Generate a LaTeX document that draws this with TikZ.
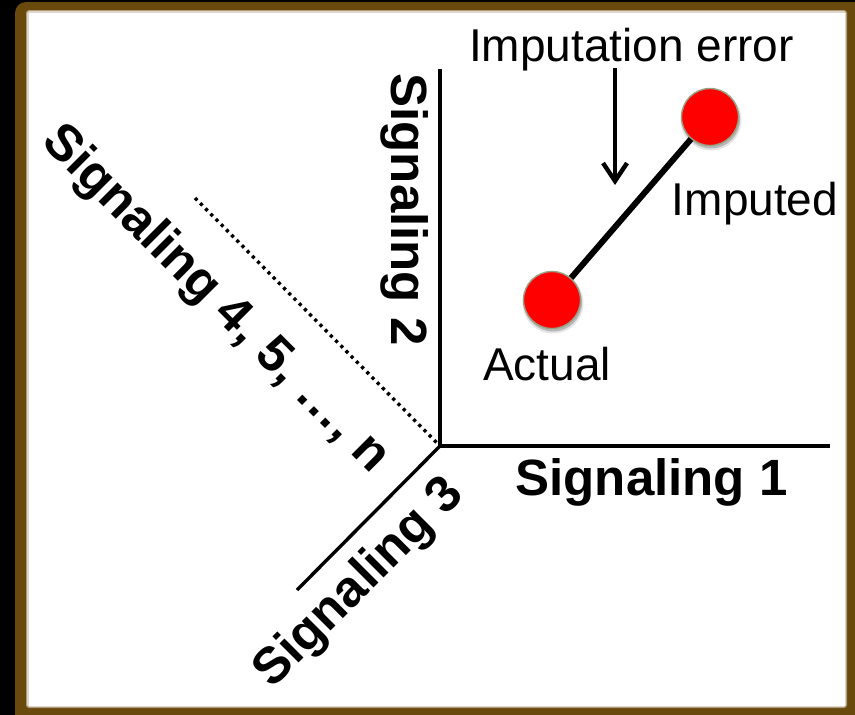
\documentclass[tikz,border=0pt]{standalone}
\usepackage{fontspec}
\setmainfont{Liberation Sans}
\usetikzlibrary{arrows.meta}

\definecolor{framebrown}{RGB}{106,73,12}
\definecolor{dotrim}{RGB}{150,160,130}

\tikzset{
  axisline/.style={line width=4pt, line cap=butt},
  diagline/.style={line width=3.4pt},
  dotline/.style={line width=3.4pt, line cap=butt, dash pattern=on 3.2pt off 4.2pt},
  reddot/.style={circle, fill=red, draw=dotrim, line width=1.4pt,
                 minimum size=57pt, inner sep=0pt},
  dotshadow/.style={circle, fill=black, minimum size=#1, inner sep=0pt, draw=none},
  plainlbl/.style={inner sep=0pt, anchor=base, font=\fontsize{46}{50}\selectfont},
  boldlbl/.style={inner sep=0pt, anchor=base, font=\fontsize{51}{56}\selectfont\bfseries},
}

\begin{document}
\begin{tikzpicture}[x=1pt, y=-1pt]
  % page and frame
  \fill[black] (0,0) rectangle (855,715);
  \useasboundingbox (0,0) rectangle (855,715);
  \fill[framebrown, rounded corners=11pt] (15,2) rectangle (870,730);
  \fill[framebrown!55!white, rounded corners=3pt] (26,10) rectangle (847,708);
  \fill[framebrown!22!white, rounded corners=2pt] (27.2,11.2) rectangle (845.8,706.8);
  \fill[white] (28.5,12.5) rectangle (844.5,705.5);

  % axes
  \coordinate (O) at (440,446);
  \coordinate (ytop) at (440,69);
  \coordinate (xend) at (830,446);
  \coordinate (zend) at (297,590);
  \coordinate (wend) at (195,198);
  \draw[axisline] (O) -- (ytop);
  \draw[axisline] ([xshift=-2pt]O) -- (xend);
  \draw[diagline] (O) -- (zend);
  \draw[dotline] (wend) -- (O);

  % axis labels
  \node[boldlbl] (s1) at (651.5,495) {Signaling 1};
  \node[boldlbl, rotate=-90] (s2) at (391,209.5) {Signaling 2};
  \node[boldlbl, rotate=45] (s3) at (369,593) {Signaling 3};
  \node[boldlbl, rotate=-45] (s4) at (206,309) {Signaling 4, 5, …, n};

  % soft shadows under the two points
  \node[dotshadow=61pt, opacity=0.10] at (553,303) {};
  \node[dotshadow=58pt, opacity=0.20] at (553,302.5) {};
  \node[dotshadow=61pt, opacity=0.10] at (711,120) {};
  \node[dotshadow=58pt, opacity=0.20] at (711,119.5) {};

  % the actual and imputed points
  \node[reddot] (act) at (552,300) {};
  \node[reddot] (imp) at (710,117) {};
  \draw[line width=6pt] (act) -- (imp);

  % point labels
  \node[plainlbl] (lact) at (547,380) {Actual};
  \node[plainlbl] (limp) at (755,215) {Imputed};
  \node[plainlbl] (lerr) at (631.5,61) {Imputation error};

  % arrow pointing at the error segment
  \coordinate (arrtop) at (615,68);
  \coordinate (arrtip) at (615,185);
  \draw[line width=4.4pt, -{Straight Barb[length=18pt, width=24pt, line width=4.4pt]}]
    (arrtop) -- (arrtip);
\end{tikzpicture}
\end{document}
